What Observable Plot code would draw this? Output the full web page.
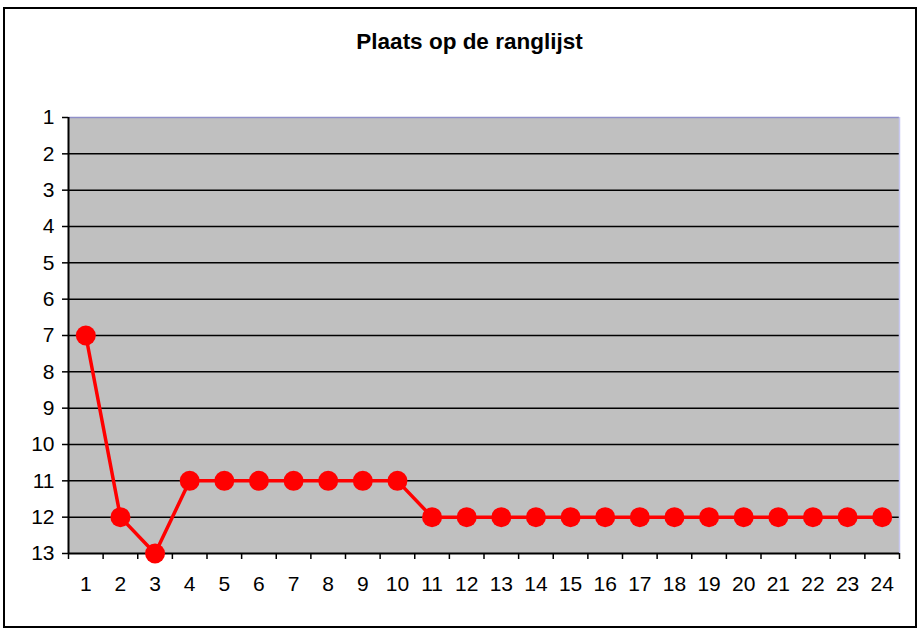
<!DOCTYPE html>
<html>
<head>
<meta charset="utf-8">
<script src="https://cdn.jsdelivr.net/npm/d3@7"></script>
<script src="https://cdn.jsdelivr.net/npm/@observablehq/plot@0.6"></script>
<style>
  html, body { margin: 0; padding: 0; background: #fff; }
  #wrap { position: relative; width: 919px; height: 630px; font-family: "Liberation Sans", Arial, sans-serif; }
  #frame { position: absolute; left: 3px; top: 7px; width: 910px; height: 617px; border: 2px solid #000; box-sizing: content-box; pointer-events: none; }
  #title { position: absolute; left: 0; width: 939px; top: 29px; text-align: center; font-weight: bold; font-size: 22.5px; color: #000; }
  #chart { position: absolute; left: 0; top: 0; }
  #chart svg g[aria-label="y-axis tick label"] text,
  #chart svg g[aria-label="x-axis tick label"] text { font-size: 21px; }
</style>
</head>
<body>
<div id="wrap">
  <div id="chart"></div>
  <div id="title">Plaats op de ranglijst</div>
  <div id="frame"></div>
</div>
<script>
const title = "Plaats op de ranglijst";
const rounds = [1,2,3,4,5,6,7,8,9,10,11,12,13,14,15,16,17,18,19,20,21,22,23,24];
const positions = [7,12,13,11,11,11,11,11,11,11,12,12,12,12,12,12,12,12,12,12,12,12,12,12];
const yTicks = [1,2,3,4,5,6,7,8,9,10,11,12,13];

const data = rounds.map((r, i) => ({round: r, pos: positions[i]}));
const boundaries = [rounds[0] - 0.5, ...rounds.map(r => r + 0.5)];
const innerGrid = yTicks.slice(1, -1);

const chart = Plot.plot({
  width: 919,
  height: 630,
  marginLeft: 68,
  marginRight: 20,
  marginTop: 117,
  marginBottom: 77,
  style: {fontFamily: "'Liberation Sans', Arial, sans-serif", fontSize: "21px", color: "#000", background: "transparent"},
  x: {type: "linear", domain: [rounds[0] - 0.5, rounds[rounds.length - 1] + 0.5], axis: null, label: null},
  y: {type: "linear", domain: [yTicks[0], yTicks[yTicks.length - 1]], reverse: true, axis: null, label: null},
  marks: [
    Plot.frame({fill: "#C0C0C0", stroke: null}),
    Plot.ruleY(innerGrid, {stroke: "#000", strokeWidth: 1.5}),
    Plot.ruleY([yTicks[0]], {stroke: "#8f8fc8", strokeWidth: 1.5}),
    Plot.ruleX([boundaries[boundaries.length - 1]], {stroke: "#c8c8f0", strokeWidth: 1.5}),
    Plot.ruleX([boundaries[0]], {stroke: "#000", strokeWidth: 2}),
    Plot.ruleY([yTicks[yTicks.length - 1]], {stroke: "#000", strokeWidth: 2}),
    Plot.axisY({ticks: yTicks, tickSize: 6, tickPadding: 8, tickFormat: d => String(d), strokeWidth: 1.5, fontSize: 21, label: null}),
    Plot.axisX({ticks: boundaries, tickSize: 6, tickFormat: () => "", strokeWidth: 1.5, label: null}),
    Plot.axisX({ticks: rounds, tickSize: 0, tickPadding: 23, tickFormat: d => String(d), fontSize: 21, label: null}),
    Plot.line(data, {x: "round", y: "pos", stroke: "#ff0000", strokeWidth: 3.5}),
    Plot.dot(data, {x: "round", y: "pos", r: 10, fill: "#ff0000", stroke: null})
  ]
});
document.getElementById("chart").appendChild(chart);
chart.querySelectorAll("text").forEach(t => { if (/^\d+$/.test(t.textContent)) t.style.fontSize = "21px"; });
</script>
</body>
</html>
